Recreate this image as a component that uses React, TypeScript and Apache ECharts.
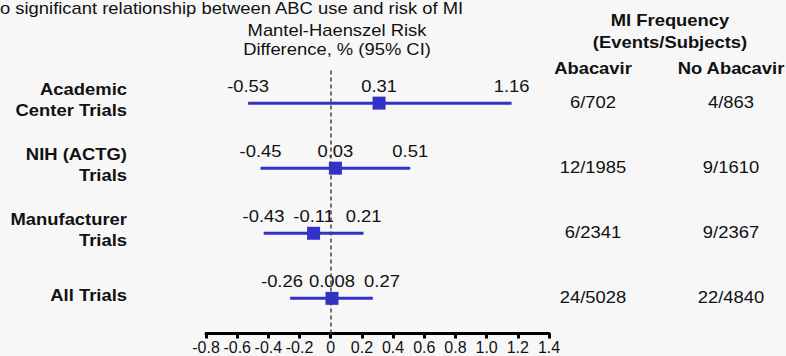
import React, { useEffect, useRef } from 'react';
import * as echarts from 'echarts';

// ---- data ----
const rowLabels = ['Academic\nCenter Trials', 'NIH (ACTG)\nTrials', 'Manufacturer\nTrials', 'All Trials'];
const rowPositions = [4, 3, 2, 1];
const estimates = [0.31, 0.03, -0.11, 0.008];
const lowerCI = [-0.53, -0.45, -0.43, -0.26];
const upperCI = [1.16, 0.51, 0.21, 0.27];
const abacavirEvents = ['6/702', '12/1985', '6/2341', '24/5028'];
const noAbacavirEvents = ['4/863', '9/1610', '9/2367', '22/4840'];
const xMin = -0.8;
const xMax = 1.4;
const xStep = 0.2;
const titleText = 'o significant relationship between ABC use and risk of MI';
const axisTitle = 'Mantel-Haenszel Risk\nDifference, % (95% CI)';
const tableTitle = 'MI Frequency\n(Events/Subjects)';
const tableColumns = ['Abacavir', 'No Abacavir'];

const FONT = '"Liberation Sans", Arial, Helvetica, sans-serif';
const SX = 1.15;
const BLUE = '#3232c8';
const INK = '#111111';
const LABEL_GAP = 50;

function txt(text: string, x: number, y: number, opts: any = {}) {
  const align = opts.align || 'center';
  return {
    type: 'text',
    x,
    y,
    scaleX: SX,
    silent: true,
    z: 10,
    style: {
      text,
      fill: INK,
      fontFamily: FONT,
      fontSize: opts.fontSize || 16,
      fontWeight: opts.bold ? 'bold' : 'normal',
      lineHeight: opts.lineHeight || 19,
      align,
      textAlign: align,
      verticalAlign: 'middle',
      textVerticalAlign: 'middle',
    },
  };
}

export default function App() {
  const ref = useRef<HTMLDivElement>(null);
  useEffect(() => {
    if (!ref.current) return;
    const chart = echarts.init(ref.current, undefined, { renderer: 'svg' });
    const ciData = rowPositions.map((y, i) => [lowerCI[i], upperCI[i], y, estimates[i]]);
    const option: any = {
      animation: false,
      backgroundColor: '#f7f7f7',
      grid: { left: 206, right: 237, top: 68, bottom: 22.5, containLabel: false },
      xAxis: {
        type: 'value',
        min: xMin,
        max: xMax,
        interval: xStep,
        axisLine: { show: true, onZero: false, lineStyle: { color: '#000', width: 3 } },
        axisTick: { show: true, length: 5, lineStyle: { color: '#000', width: 3 } },
        axisLabel: {
          color: INK,
          fontSize: 16,
          fontFamily: FONT,
          margin: 6,
          interval: 0,
          hideOverlap: false,
          formatter: (v: number) => (Math.abs(v) < 1e-9 ? '0' : v.toFixed(1)),
        },
        splitLine: { show: false },
      },
      yAxis: { type: 'value', min: 0.46, max: 4.54, show: false },
      graphic: [
        txt(titleText, 0, 8.5, { align: 'left' }),
        txt(axisTitle, 337, 40),
        txt(tableTitle, 670, 31, { bold: true, lineHeight: 22 }),
        txt(tableColumns[0], 593, 68, { bold: true }),
        txt(tableColumns[1], 731, 68, { bold: true }),
      ],
      series: [
        {
          type: 'custom',
          z: 2,
          clip: false,
          data: ciData,
          renderItem: (params: any, api: any) => {
            const i = params.dataIndex;
            const lo = api.value(0);
            const hi = api.value(1);
            const y = api.value(2);
            const est = api.value(3);
            const p1 = api.coord([lo, y]);
            const p2 = api.coord([hi, y]);
            const pe = api.coord([est, y]);
            // keep the three value labels from colliding
            const cLo = Math.min(p1[0], pe[0] - LABEL_GAP);
            const cHi = Math.max(p2[0], pe[0] + LABEL_GAP);
            return {
              type: 'group',
              children: [
                {
                  type: 'line',
                  shape: { x1: p1[0], y1: p1[1], x2: p2[0], y2: p2[1] },
                  style: { stroke: BLUE, lineWidth: 3 },
                },
                txt(String(lo), cLo, p1[1] - 17),
                txt(String(est), pe[0], pe[1] - 17),
                txt(String(hi), cHi, p2[1] - 17),
                txt(rowLabels[i], 127, p1[1] - 3, { align: 'right', bold: true, lineHeight: 21 }),
                txt(abacavirEvents[i], 593, p1[1] - 1),
                txt(noAbacavirEvents[i], 731, p1[1] - 1),
              ],
            };
          },
        },
        {
          type: 'scatter',
          z: 3,
          symbol: 'rect',
          symbolSize: 13,
          itemStyle: { color: BLUE, opacity: 1 },
          data: rowPositions.map((y, i) => [estimates[i], y]),
          markLine: {
            silent: true,
            symbol: 'none',
            label: { show: false },
            lineStyle: { color: '#444', type: [4, 3], width: 1.5 },
            data: [{ xAxis: 0 }],
          },
        },
      ],
    };
    chart.setOption(option);
    return () => chart.dispose();
  }, []);
  return (
    <div
      ref={ref}
      style={{ position: 'fixed', left: 0, top: 0, width: 786, height: 356 }}
    />
  );
}
